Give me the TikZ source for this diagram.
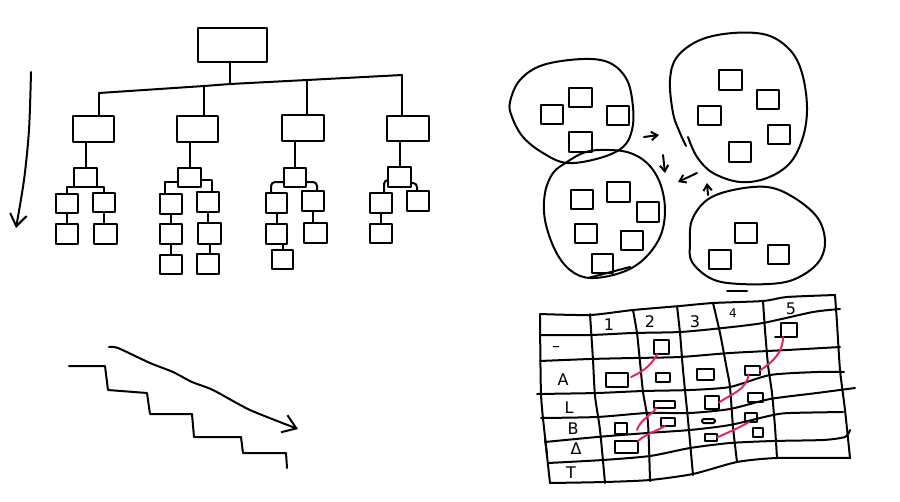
\documentclass[tikz,border=0pt]{standalone}
\usepackage{fontspec}
\setmainfont{DejaVu Sans}
\usetikzlibrary{arrows.meta}
\definecolor{pinkln}{RGB}{226,38,110}
\tikzset{
  sq/.style args={#1/#2}{draw, inner sep=0pt, outer sep=0pt, minimum width=#1pt, minimum height=#2pt},
  blob/.style={line width=2pt},
  gl/.style={line width=2pt},
  pk/.style={draw=pinkln, line width=2pt},
  lab/.style={inner sep=0pt, font=\fontsize{16}{16}\selectfont},
  barb/.style={-{Straight Barb[length=#1pt, width=#1pt*1.4]}},
}
\begin{document}
\begin{tikzpicture}[x=1pt, y=-1pt, line width=2pt, line join=round, line cap=round]
\fill[white] (0,0) rectangle (900,501);
\useasboundingbox (0,0) rectangle (900,501);

% ---------------- tree ----------------
\node[sq=69/34] (root) at (232.5,44.5) {};
\node[sq=41/26] (c1) at (93.5,129) {};
\node[sq=41/26] (c2) at (197.5,129) {};
\node[sq=42/26] (c3) at (303,128) {};
\node[sq=42/25] (c4) at (408,128.5) {};
\coordinate (jr) at (230,84);
\coordinate (j1) at (99,93);
\coordinate (j2) at (204,86);
\coordinate (j3) at (307,80);
\coordinate (j4) at (402,75);
\draw (root.south -| jr) -- (jr);
\draw (j1) -- (j2) -- (jr) -- (j3) -- (j4);
\draw (j1) -- (j1 |- c1.north);
\draw (j2) -- (j2 |- c2.north);
\draw (j3) -- (j3 |- c3.north);
\draw (j4) -- (j4 |- c4.north);

% branch 1
\node[sq=23/19] (b1) at (85.5,177.5) {};
\draw (c1.south -| b1.north) -- (b1.north);
\node[sq=22/19] (b1l) at (67,203.5) {};
\node[sq=22/19] (b1r) at (104,202.5) {};
\coordinate (k1) at (67,186.5);
\draw (b1l.north) -- (k1) -- (k1 -| b1r.north) -- (b1r.north);
\node[sq=22/20] (b1l2) at (67,234) {};
\node[sq=23/20] (b1r2) at (105.5,234) {};
\draw (b1l.south) -- (b1l2.north);
\draw (b1r.south) -- (b1r.south |- b1r2.north);

% branch 2
\node[sq=23/19] (b2) at (189.5,177.5) {};
\draw (c2.south -| b2.north) -- (b2.north);
\node[sq=22/20] (b2l) at (171,204) {};
\node[sq=22/20] (b2r) at (208,202) {};
\coordinate (k2l) at (165,182);
\coordinate (k2r) at (212,180);
\draw (b2.west |- k2l) -- (k2l) -- (k2l |- b2l.north);
\draw (b2.east |- k2r) -- (k2r) -- (k2r |- b2r.north);
\node[sq=22/20] (b2l2) at (171,234) {};
\node[sq=23/21] (b2r2) at (209.5,233.5) {};
\node[sq=22/19] (b2l3) at (171,264.5) {};
\node[sq=22/20] (b2r3) at (208,264) {};
\draw (b2l.south) -- (b2l2.north);
\draw (b2l2.south) -- (b2l3.north);
\draw (b2r.south) -- (b2r.south |- b2r2.north);
\draw (b2r3.north -| b2r2.south) -- (b2r2.south);

% branch 3
\node[sq=22/19] (b3) at (295,177.5) {};
\draw (c3.south -| b3.north) -- (b3.north);
\node[sq=21/20] (b3l) at (276.5,203) {};
\node[sq=22/20] (b3r) at (313,201) {};
\coordinate (k3l) at (271,182);
\coordinate (k3r) at (317,182);
\draw[rounded corners=4pt] (b3.west |- k3l) -- (k3l) -- (k3l |- b3l.north);
\draw[rounded corners=4pt] (b3.east |- k3r) -- (k3r) -- (k3r |- b3r.north);
\node[sq=21/20] (b3l2) at (276.5,234) {};
\node[sq=23/20] (b3r2) at (315.5,233) {};
\node[sq=21/19] (b3l3) at (282.5,259.5) {};
\draw (b3l.south) -- (b3l2.north);
\draw (b3l3.north |- b3l2.south) -- (b3l3.north);
\draw (b3r.south) -- (b3r.south |- b3r2.north);

% branch 4
\node[sq=23/20] (b4) at (399.5,177) {};
\draw (c4.south -| b4.north) -- (b4.north);
\node[sq=22/20] (b4l) at (381,203) {};
\node[sq=22/20] (b4r) at (418,201) {};
\coordinate (k4l) at (384,180);
\coordinate (k4r) at (417,183);
\draw[rounded corners=4pt] (b4.west |- k4l) -- (k4l) -- (k4l |- b4l.north);
\draw[rounded corners=4pt] (b4.east |- k4r) -- (k4r) -- (k4r |- b4r.north);
\node[sq=22/19] (b4l2) at (381,233.5) {};
\draw (b4l.south) -- (b4l2.north);

% left down arrow
\coordinate (la0) at (31,72);
\coordinate (la1) at (16,228);
\draw[barb=12] plot[smooth, tension=0.5] coordinates {(la0) (29,130) (24,180) (la1)};

% ---------------- staircase ----------------
\draw (69,366) -- (105,366) -- (108,390) -- (147,393) -- (150,414) -- (192,414)
      -- (194,437) -- (241,437) -- (243,453) -- (286,453) -- (287,468);
\coordinate (sa0) at (109,347);
\coordinate (sa1) at (298,429);
\draw[barb=13] plot[smooth, tension=0.4] coordinates {(sa0) (118,348) (150,363) (173,372) (192,382) (213,390) (250,410) (sa1)};

% ---------------- blobs ----------------
\draw[blob] plot[smooth cycle, tension=0.6] coordinates {(510,102) (520,80) (543,65) (583,59) (610,63) (627,80) (633,107) (632,130) (623,147) (600,158) (567,163) (543,153) (523,137) (512,117)};
\draw[blob] plot[smooth cycle, tension=0.6] coordinates {(600,150) (627,152) (647,163) (660,183) (665,210) (660,237) (643,260) (620,273) (590,278) (570,270) (555,250) (545,220) (545,193) (553,173) (567,162) (583,153)};
\draw (588,278) -- (630,267);
\draw[blob] plot[smooth, tension=0.6] coordinates {(688,137) (697,157) (713,173) (740,182) (767,178) (790,163) (803,137) (807,107) (802,73) (790,50) (767,35) (733,33) (700,40) (677,57) (670,80) (673,113) (680,133) (686,146)};
\draw[blob] plot[smooth cycle, tension=0.6] coordinates {(692,262) (690,243) (692,220) (707,200) (733,190) (767,187) (793,197) (817,217) (825,240) (820,260) (803,275) (780,283) (740,284) (712,279)};

\node[sq=22/19] (q11) at (552,114.5) {};
\node[sq=23/19] (q12) at (580.5,97.5) {};
\node[sq=22/19] (q13) at (618,115.5) {};
\node[sq=23/20] (q14) at (580.5,142) {};
\node[sq=22/19] (q21) at (582,199.5) {};
\node[sq=23/20] (q22) at (618.5,192) {};
\node[sq=22/20] (q23) at (648,212) {};
\node[sq=22/19] (q24) at (586,233.5) {};
\node[sq=22/19] (q25) at (632,240.5) {};
\node[sq=21/19] (q26) at (602.5,263.5) {};
\node[sq=23/20] (q31) at (730.5,80) {};
\node[sq=22/19] (q32) at (768,99.5) {};
\node[sq=23/19] (q33) at (709.5,115.5) {};
\node[sq=22/19] (q34) at (779,134.5) {};
\node[sq=22/20] (q35) at (740,152) {};
\node[sq=22/20] (q41) at (746,233) {};
\node[sq=22/19] (q42) at (720,259.5) {};
\node[sq=21/19] (q43) at (778.5,254.5) {};

% small arrows
\draw[barb=6] (644,137) -- (659,135);
\draw[barb=6] (663,155) -- (665,173);
\draw[barb=6] (697,173) -- (678,182);
\draw[barb=6] (708,195) -- (707,183);

% ---------------- grid ----------------
\draw[gl] plot[smooth, tension=0.4] coordinates {(540,314) (590,315) (633,310) (680,306) (713,303) (763,301) (787,297) (835,295)};
\draw[gl] plot[smooth, tension=0.4] coordinates {(540,335) (590,335) (633,333) (680,332) (723,328) (763,323) (813,312) (840,309)};
\draw[gl] plot[smooth, tension=0.4] coordinates {(540,361) (590,359) (633,358) (680,357) (730,353) (787,350) (840,347)};
\draw[gl] plot[smooth, tension=0.4] coordinates {(537,394) (597,393) (643,391) (690,390) (730,387) (770,375) (817,372) (844,372)};
\draw[gl] plot[smooth, tension=0.4] coordinates {(541,418) (597,417) (647,413) (690,413) (730,409) (770,399) (817,393) (855,388)};
\draw[gl] plot[smooth, tension=0.4] coordinates {(545,442) (597,437) (647,433) (690,430) (730,425) (773,415) (790,413) (843,412)};
\draw[gl] plot[smooth, tension=0.4] coordinates {(548,463) (603,460) (650,456) (690,448) (730,443) (773,441) (823,440) (845,437) (850,430)};
\draw[gl] plot[smooth, tension=0.4] coordinates {(550,483) (605,482) (650,480) (693,474) (737,462) (777,458) (850,458)};
\draw[gl] plot[smooth, tension=0.4] coordinates {(540,314) (541,394) (545,437) (550,483)};
\draw[gl] plot[smooth, tension=0.4] coordinates {(590,314) (593,360) (595,396) (600,430) (605,483)};
\draw[gl] plot[smooth, tension=0.4] coordinates {(633,310) (637,333) (640,362) (643,392) (648,423) (650,481)};
\draw[gl] plot[smooth, tension=0.4] coordinates {(677,306) (680,333) (683,370) (688,420) (693,475)};
\draw[gl] plot[smooth, tension=0.4] coordinates {(713,303) (720,333) (727,370) (730,387) (733,427) (737,462)};
\draw[gl] plot[smooth, tension=0.4] coordinates {(763,301) (765,330) (768,365) (772,393) (775,427) (777,458)};
\draw[gl] plot[smooth, tension=0.4] coordinates {(835,295) (837,323) (840,370) (845,410) (850,458)};
\draw (545,438) -- (547,455);
\draw (727,291) -- (747,291);

% labels
\node[lab] (h1) at (609,325) {1};
\node[lab] (h2) at (650,322) {2};
\node[lab] (h3) at (695,322) {3};
\node[lab, font=\fontsize{12}{12}\selectfont] (h4) at (733,313) {4};
\node[lab] (h5) at (791,309) {5};
\node[lab] (rdash) at (556,349) {–};
\node[lab] (rA) at (563,380) {A};
\node[lab] (rL) at (569,408) {L};
\node[lab] (rB) at (573,429) {B};
\node[lab] (rD) at (576,449) {Δ};
\node[lab] (rT) at (571,473) {T};

% grid squares
\node[sq=15/14] (s02) at (661.5,347) {};
\node[sq=16/14] (sH5) at (789,330) {};
\draw (sH5.south west) -- ++(-6,0);
\node[sq=22/14] (sA1) at (617,380) {};
\node[sq=14/9] (sA2) at (663,377.5) {};
\node[sq=17/11] (sA3) at (705.5,374.5) {};
\node[sq=15/9] (sA4) at (752.5,370.5) {};
\node[sq=21/7] (sL2) at (664.5,404.5) {};
\node[sq=14/13] (sL3) at (712,402.5) {};
\node[sq=15/9] (sL4) at (755.5,397.5) {};
\node[sq=12/11] (sB1) at (621,428.5) {};
\node[sq=14/8] (sB2) at (668,422) {};
\node[sq=13/4, rounded corners=1.5pt] (sB3) at (708.5,421) {};
\node[sq=12/9] (sB4) at (751,417.5) {};
\node[sq=10/9] (sB4b) at (758,432.5) {};
\node[sq=23/12] (sD1) at (626.5,447) {};
\node[sq=12/7] (sD3) at (711,437.5) {};

% pink links
\coordinate (p1) at (631,377);
\coordinate (p4) at (637,430);
\draw[pk] ([xshift=-4pt]s02.south) to[out=-120,in=25] (p1);
\draw[pk] ([xshift=-6pt]sH5.south) to[out=-90,in=35] (sA4.east);
\draw[pk] ([xshift=-4pt]sA4.south) to[out=-100,in=35] (sL3.east);
\draw[pk] ([xshift=-8pt]sL2.south) to[out=-130,in=70] (p4);
\draw[pk] ([xshift=-3pt]sB2.south) to[out=-150,in=40] (sD1.north east);
\draw[pk] ([xshift=-2pt]sB4.south) to[out=-150,in=25] (sD3.east);
\end{tikzpicture}
\end{document}
